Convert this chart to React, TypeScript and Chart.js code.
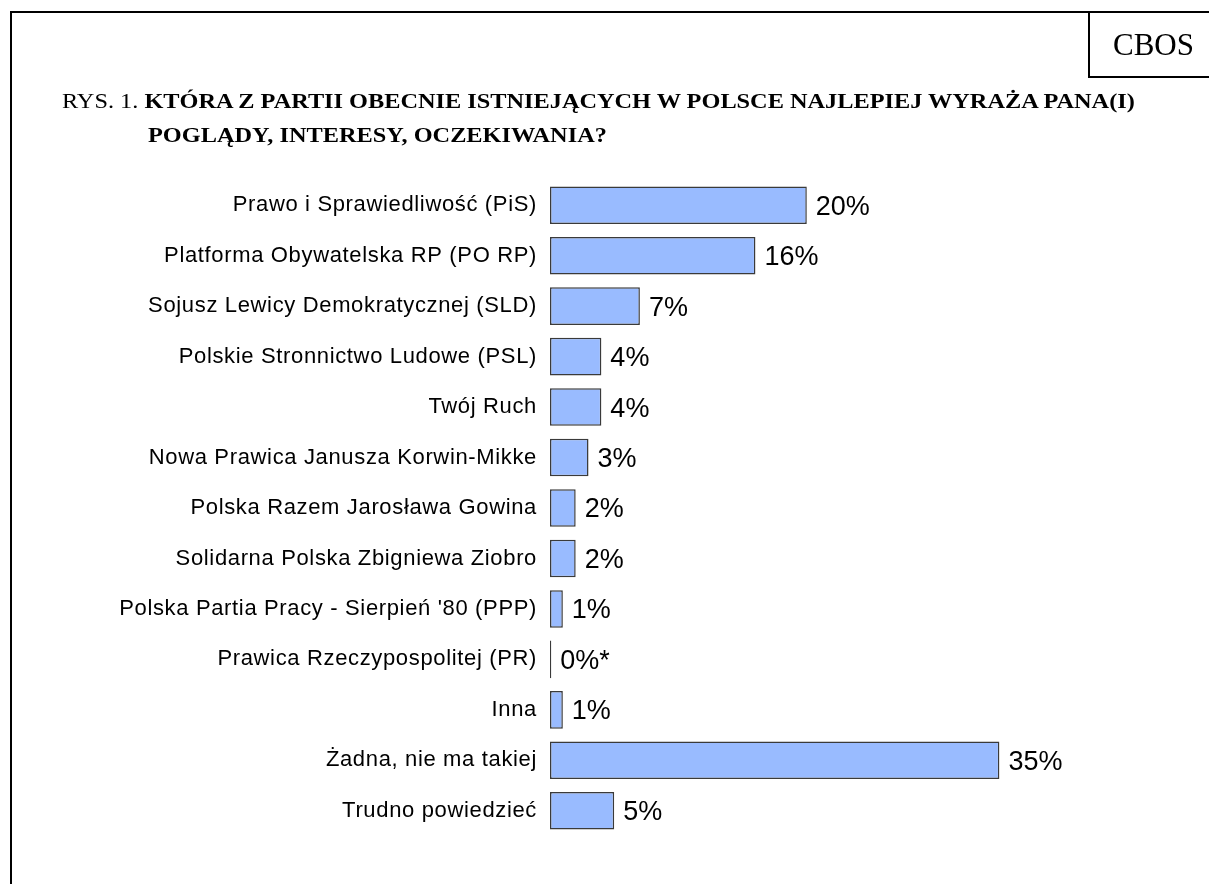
import React, { useEffect, useRef } from "react";
import { Chart, registerables } from "chart.js";

Chart.register(...registerables);

const categories: string[] = [
  "Prawo i Sprawiedliwość (PiS)",
  "Platforma Obywatelska RP (PO RP)",
  "Sojusz Lewicy Demokratycznej (SLD)",
  "Polskie Stronnictwo Ludowe (PSL)",
  "Twój Ruch",
  "Nowa Prawica Janusza Korwin-Mikke",
  "Polska Razem Jarosława Gowina",
  "Solidarna Polska Zbigniewa Ziobro",
  "Polska Partia Pracy - Sierpień '80 (PPP)",
  "Prawica Rzeczypospolitej (PR)",
  "Inna",
  "Żadna, nie ma takiej",
  "Trudno powiedzieć",
];

const values: number[] = [20, 16, 7, 4, 4, 3, 2, 2, 1, 0.1, 1, 35, 5];

const valueLabels: string[] = [
  "20%", "16%", "7%", "4%", "4%", "3%", "2%", "2%", "1%", "0%*", "1%", "35%", "5%",
];

const titleLine1Prefix = "RYS. 1. ";
const titleLine1 = "KTÓRA Z PARTII OBECNIE ISTNIEJĄCYCH W POLSCE NAJLEPIEJ WYRAŻA PANA(I)";
const titleLine2 = "POGLĄDY, INTERESY, OCZEKIWANIA?";
const sourceLabel = "CBOS";

const spacingPlugin = {
  id: "labelSpacing",
  beforeDraw(chart: any) {
    (chart.ctx as any).letterSpacing = "0.65px";
  },
};

const valueLabelPlugin = {
  id: "valueLabels",
  afterDatasetsDraw(chart: any) {
    const ctx = chart.ctx;
    const meta = chart.getDatasetMeta(0);
    ctx.save();
    (ctx as any).letterSpacing = "0px";
    ctx.font = "27px 'Liberation Sans', Arial, sans-serif";
    ctx.fillStyle = "#000";
    ctx.textAlign = "left";
    ctx.textBaseline = "middle";
    meta.data.forEach((bar: any, i: number) => {
      ctx.fillText(valueLabels[i], bar.x + 9, bar.y + 2);
    });
    ctx.restore();
  },
};

export default function App() {
  const canvasRef = useRef<HTMLCanvasElement | null>(null);

  useEffect(() => {
    if (!canvasRef.current) return;
    const chart = new Chart(canvasRef.current, {
      type: "bar",
      data: {
        labels: categories,
        datasets: [
          {
            data: values,
            backgroundColor: "#99bbff",
            borderColor: "#3a3a3a",
            borderWidth: 1.5,
            borderSkipped: false,
            barPercentage: 0.745,
            categoryPercentage: 1,
          },
        ],
      },
      options: {
        indexAxis: "y",
        animation: false,
        responsive: false,
        events: [],
        layout: { padding: { top: 180, bottom: 48, left: 0, right: 17 } },
        plugins: {
          legend: { display: false },
          tooltip: { enabled: false },
          title: { display: false },
        },
        scales: {
          x: { min: 0, max: 50, display: false },
          y: {
            grid: { display: false, drawTicks: false },
            border: { display: false },
            ticks: {
              color: "#000",
              padding: 13,
              font: { family: "'Liberation Sans', Arial, sans-serif", size: 22 },
            },
            afterFit: (scale: any) => {
              scale.width = 550;
            },
          },
        },
      },
      plugins: [spacingPlugin, valueLabelPlugin],
    });
    return () => chart.destroy();
  }, []);

  const titleFont = "'Liberation Serif', 'Times New Roman', serif";

  return (
    <div
      style={{
        position: "fixed",
        left: 0,
        top: 0,
        width: 1209,
        height: 884,
        background: "#fff",
        overflow: "hidden",
      }}
    >
      <canvas
        ref={canvasRef}
        width={1209}
        height={884}
        style={{ position: "absolute", left: 0, top: 0 }}
      />
      <div
        style={{
          position: "absolute",
          left: 10,
          top: 11,
          width: 1300,
          height: 1000,
          borderTop: "2px solid #000",
          borderLeft: "2px solid #000",
          boxSizing: "border-box",
        }}
      />
      <div
        style={{
          position: "absolute",
          left: 1088,
          top: 11,
          width: 200,
          height: 67,
          borderLeft: "2px solid #000",
          borderBottom: "2px solid #000",
          boxSizing: "border-box",
        }}
      />
      <div
        style={{
          position: "absolute",
          left: 1113,
          top: 27,
          fontFamily: titleFont,
          fontSize: 31,
          lineHeight: "36px",
          color: "#000",
        }}
      >
        {sourceLabel}
      </div>
      <div
        style={{
          position: "absolute",
          left: 62,
          top: 89,
          fontFamily: titleFont,
          fontSize: 22,
          lineHeight: "24px",
          color: "#000",
          whiteSpace: "nowrap",
          transform: "scaleX(1.105)",
          transformOrigin: "left center",
        }}
      >
        {titleLine1Prefix}
        <b>{titleLine1}</b>
      </div>
      <div
        style={{
          position: "absolute",
          left: 148,
          top: 123,
          fontFamily: titleFont,
          fontSize: 22,
          lineHeight: "24px",
          fontWeight: "bold",
          color: "#000",
          whiteSpace: "nowrap",
          transform: "scaleX(1.105)",
          transformOrigin: "left center",
        }}
      >
        {titleLine2}
      </div>
    </div>
  );
}
